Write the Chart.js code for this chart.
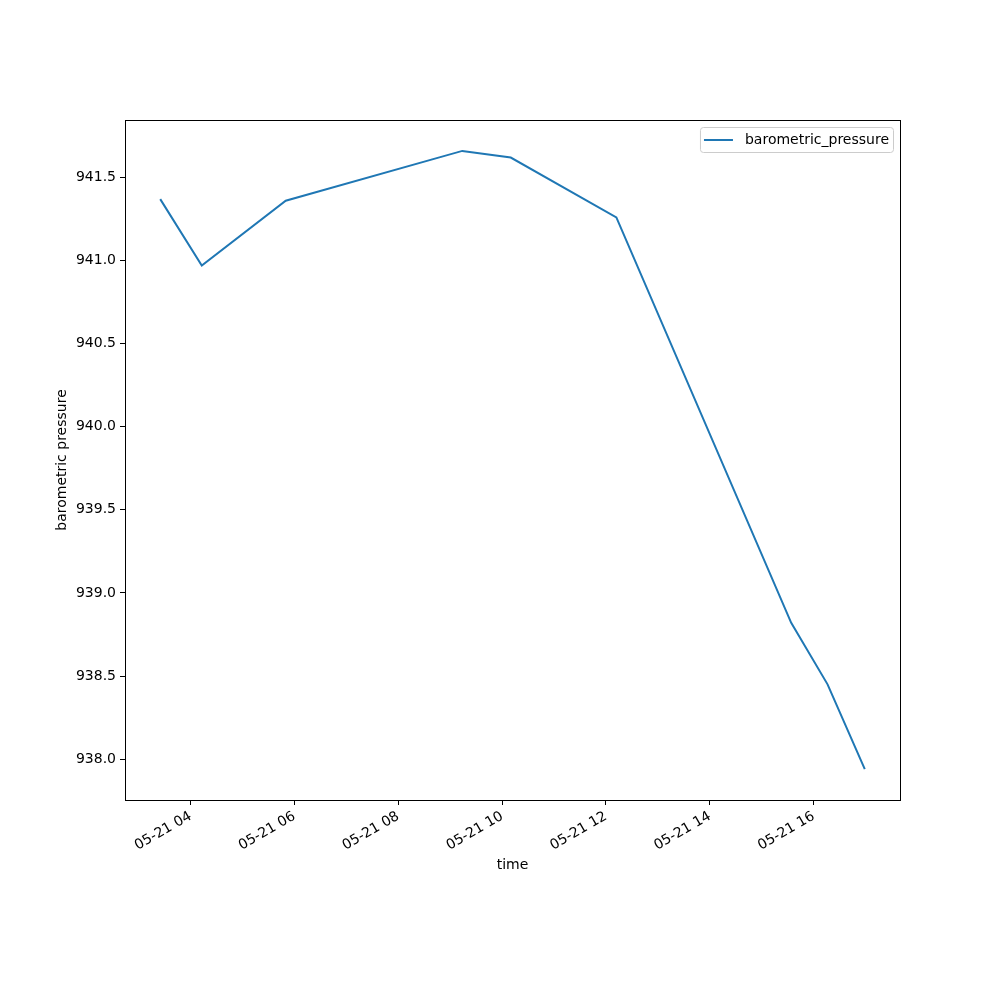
<!DOCTYPE html>
<html>
<head>
<meta charset="utf-8">
<script src="https://cdn.jsdelivr.net/npm/chart.js@4/dist/chart.umd.min.js"></script>
<style>
  body { margin: 0; background: #fff; }
  #chart-container { display: block; }
</style>
</head>
<body>
<canvas id="chart-container" width="1000" height="1000"></canvas>
<script>
// readings taken on 05-21, hh:mm
const times = ['03:25', '04:13', '05:50', '09:14', '10:10', '12:12', '15:34', '16:16', '16:59'];
const pressure = [941.37, 940.97, 941.36, 941.66, 941.62, 941.26, 938.82, 938.45, 937.94];
const xTicks = [4, 6, 8, 10, 12, 14, 16];
const yTicks = [938.0, 938.5, 939.0, 939.5, 940.0, 940.5, 941.0, 941.5];
const dayLabel = '05-21';

const FONT = 'DejaVu Sans';

function toHours(t) {
    const parts = t.split(':');
    return Number(parts[0]) + Number(parts[1]) / 60;
}
function pad(n) {
    return String(n).padStart(2, '0');
}

const points = times.map((t, i) => ({ x: toHours(t), y: pressure[i] }));

// matplotlib-like 5% margins
const xs = points.map(p => p.x);
const xSpan = Math.max(...xs) - Math.min(...xs);
const ySpan = Math.max(...pressure) - Math.min(...pressure);

// frame + legend drawn like matplotlib
const framePlugin = {
    id: 'frame',
    afterDraw(chart) {
        const ctx = chart.ctx;
        const a = chart.chartArea;
        ctx.save();
        ctx.strokeStyle = '#000';
        ctx.lineWidth = 1;
        ctx.strokeRect(Math.round(a.left) + 0.5, Math.round(a.top) + 0.5,
            Math.round(a.right - a.left), Math.round(a.bottom - a.top));

        // legend box, upper right
        const ds = chart.data.datasets[0];
        ctx.font = '14px "' + FONT + '"';
        const tw = ctx.measureText(ds.label).width;
        const w = tw + 49, h = 25;
        const x0 = a.right - 7 - w, y0 = a.top + 7;
        ctx.beginPath();
        ctx.roundRect(x0 + 0.5, y0 + 0.5, w, h, 3);
        ctx.fillStyle = 'rgba(255,255,255,0.8)';
        ctx.fill();
        ctx.strokeStyle = '#cccccc';
        ctx.stroke();
        ctx.beginPath();
        ctx.moveTo(x0 + 4, y0 + h / 2 + 0.5);
        ctx.lineTo(x0 + 33, y0 + h / 2 + 0.5);
        ctx.strokeStyle = ds.borderColor;
        ctx.lineWidth = 2;
        ctx.stroke();
        ctx.fillStyle = '#000';
        ctx.textBaseline = 'middle';
        ctx.textAlign = 'left';
        ctx.fillText(ds.label, x0 + 45, y0 + h / 2 + 1);
        ctx.restore();
    }
};

const ctx = document.getElementById('chart-container').getContext('2d');
new Chart(ctx, {
    type: 'line',
    data: {
        datasets: [{
            label: 'barometric_pressure',
            data: points,
            borderColor: '#1f77b4',
            borderWidth: 2,
            pointRadius: 0,
            fill: false,
            tension: 0
        }]
    },
    options: {
        responsive: false,
        animation: false,
        devicePixelRatio: 1,
        layout: { padding: { left: 0, top: 120, right: 100, bottom: 0 } },
        plugins: {
            legend: { display: false },
            tooltip: { enabled: false }
        },
        scales: {
            x: {
                type: 'linear',
                min: Math.min(...xs) - 0.05 * xSpan,
                max: Math.max(...xs) + 0.05 * xSpan,
                afterBuildTicks: scale => { scale.ticks = xTicks.map(v => ({ value: v })); },
                afterFit: scale => { scale.height = 200; },
                grid: { drawOnChartArea: false, drawTicks: true, tickLength: 5, color: '#000' },
                border: { display: true, color: '#000' },
                ticks: {
                    color: '#000',
                    font: { family: FONT, size: 14 },
                    minRotation: 30,
                    maxRotation: 30,
                    padding: 3,
                    autoSkip: false,
                    callback: v => dayLabel + ' ' + pad(v)
                },
                title: {
                    display: true,
                    text: 'time',
                    color: '#000',
                    font: { family: FONT, size: 14 },
                    padding: { top: 0, bottom: 126 }
                }
            },
            y: {
                min: Math.min(...pressure) - 0.05 * ySpan,
                max: Math.max(...pressure) + 0.05 * ySpan,
                afterBuildTicks: scale => { scale.ticks = yTicks.map(v => ({ value: v })); },
                afterFit: scale => { scale.width = 125; },
                grid: { drawOnChartArea: false, drawTicks: true, tickLength: 5, color: '#000' },
                border: { display: true, color: '#000' },
                ticks: {
                    color: '#000',
                    font: { family: FONT, size: 14 },
                    padding: 4,
                    callback: v => v.toFixed(1)
                },
                title: {
                    display: true,
                    text: 'barometric pressure',
                    color: '#000',
                    font: { family: FONT, size: 14 },
                    padding: { top: 54, bottom: 0 }
                }
            }
        }
    },
    plugins: [framePlugin]
});
</script>
</body>
</html>
